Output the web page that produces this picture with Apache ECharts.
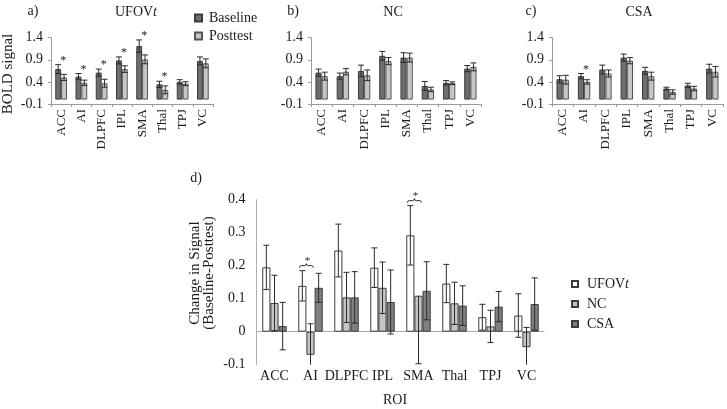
<!DOCTYPE html>
<html><head><meta charset="utf-8">
<script src="https://cdn.jsdelivr.net/npm/echarts@6/dist/echarts.min.js"></script>
<style>html,body{margin:0;padding:0;background:#fff}#c{width:727px;height:409px}</style>
</head><body><div id="c"></div>
<script>
const cats = ['ACC','AI','DLPFC','IPL','SMA','Thal','TPJ','VC'];
// Panel a) UFOVt
const ufovBase = [0.69,0.52,0.61,0.885,1.21,0.345,0.40,0.875];
const ufovPost = [0.50,0.38,0.37,0.69,0.91,0.22,0.36,0.82];
const ufovBaseErr = [0.10,0.07,0.08,0.08,0.14,0.07,0.05,0.09];
const ufovPostErr = [0.07,0.06,0.09,0.075,0.10,0.09,0.045,0.10];
const ufovSig = [1,1,1,1,1,1,0,0];
// Panel b) NC
const ncBase = [0.61,0.53,0.65,0.99,0.95,0.31,0.38,0.70];
const ncPost = [0.53,0.63,0.55,0.87,0.95,0.23,0.37,0.74];
const ncBaseErr = [0.08,0.07,0.13,0.10,0.11,0.10,0.05,0.07];
const ncPostErr = [0.09,0.07,0.12,0.08,0.10,0.05,0.03,0.09];
const ncSig = [0,0,0,0,0,0,0,0];
// Panel c) CSA
const csaBase = [0.46,0.53,0.68,0.95,0.65,0.25,0.32,0.70];
const csaPost = [0.45,0.40,0.59,0.88,0.53,0.17,0.25,0.63];
const csaBaseErr = [0.08,0.06,0.10,0.08,0.08,0.03,0.05,0.10];
const csaPostErr = [0.10,0.05,0.08,0.07,0.09,0.05,0.05,0.12];
const csaSig = [0,1,0,0,0,0,0,0];
// Panel d) change in signal
const chgUfov = [0.195,0.139,0.246,0.194,0.292,0.146,0.044,0.049];
const chgUfovErr = [0.067,0.046,0.080,0.060,0.090,0.058,0.039,0.066];
const chgNc = [0.087,-0.070,0.104,0.133,0.109,0.086,0.016,-0.047];
const chgNcErrDown = [0.084,0.094,0.076,0.078,0.206,0.064,0.049,0.060];
const chgNcErrUp = [0.084,0.094,0.076,0.078,0,0.064,0.049,0.060];
const chgCsa = [0.017,0.133,0.104,0.090,0.124,0.079,0.076,0.084];
const chgCsaErr = [0.072,0.044,0.078,0.097,0.088,0.060,0.046,0.079];
const chgSig = [0,1,0,0,1,0,0,0];

const FONT = 'Liberation Serif';
const TXT = '#1a1a1a';
const AX = '#9a9a9a';
const C_BASE = '#6e6e6e', C_POST = '#c6c6c6';
const C_U = '#ffffff', C_N = '#c4c4c4', C_C = '#808080';
const EDGE = '#3c3c3c';

const GAP_ABC = 0.42, GAP_D = 0.32;

function errSeries(g, vals, down, up, k, n, gap, yMin, yMax, whisk) {
  return {
    type: 'custom', xAxisIndex: g, yAxisIndex: g, z: 5, silent: true, clip: false,
    data: vals.map((v, i) => [i, v, down[i], up[i]]),
    renderItem: function (params, api) {
      const i = api.value(0), v = api.value(1), ed = api.value(2), eu = api.value(3);
      const c = api.coord([i, v]);
      const catW = api.size([1, 0])[0];
      const bw = catW * (1 - gap) / n;
      const x = c[0] + (k - (n - 1) / 2) * bw;
      const lo = v - ed, hi = v + eu;
      const lo2 = Math.max(lo, yMin), hi2 = Math.min(hi, yMax);
      const pLo = api.coord([i, lo2])[1], pHi = api.coord([i, hi2])[1];
      const st = { stroke: '#2a2a2a', lineWidth: 1 };
      const ch = [{ type: 'line', shape: { x1: x, y1: pLo, x2: x, y2: pHi }, style: st }];
      if (hi <= yMax + 1e-9 && eu > 0) ch.push({ type: 'line', shape: { x1: x - whisk, y1: pHi, x2: x + whisk, y2: pHi }, style: st });
      if (lo >= yMin - 1e-9) ch.push({ type: 'line', shape: { x1: x - whisk, y1: pLo, x2: x + whisk, y2: pLo }, style: st });
      return { type: 'group', children: ch };
    }
  };
}

function starSeries(g, sig, b, be, p, pe) {
  const data = [];
  sig.forEach((s, i) => { if (s) data.push([i, Math.max(b[i] + be[i], p[i] + pe[i])]); });
  return {
    type: 'custom', xAxisIndex: g, yAxisIndex: g, z: 6, silent: true, clip: false,
    data: data,
    renderItem: function (params, api) {
      const c = api.coord([api.value(0), api.value(1)]);
      return { type: 'text', x: c[0] + 2, y: c[1] - 4,
        style: { text: '*', textAlign: 'center', textVerticalAlign: 'middle', font: '12px ' + FONT, fill: TXT } };
    }
  };
}

function barPair(g, base, post) {
  return [
    { name: 'Baseline', type: 'bar', xAxisIndex: g, yAxisIndex: g, data: base, barGap: '0%', barCategoryGap: (GAP_ABC * 100) + '%',
      itemStyle: { color: C_BASE, borderColor: EDGE, borderWidth: 1 }, silent: true },
    { name: 'Posttest', type: 'bar', xAxisIndex: g, yAxisIndex: g, data: post, barGap: '0%', barCategoryGap: (GAP_ABC * 100) + '%',
      itemStyle: { color: C_POST, borderColor: '#555', borderWidth: 1 }, silent: true }
  ];
}

const grids = [
  { left: 51, top: 37.7, width: 162, height: 66.3 },
  { left: 311, top: 37.7, width: 170, height: 66.3 },
  { left: 552, top: 37.7, width: 171, height: 66.3 },
  { left: 256.5, top: 199.7, width: 288, height: 165 }
];

function xAx(g) {
  const small = g < 3;
  return {
    type: 'category', gridIndex: g, data: cats, position: 'bottom',
    axisLine: { show: small, onZero: false, lineStyle: { color: AX } },
    axisTick: { show: small, length: 3, lineStyle: { color: AX } },
    axisLabel: small
      ? { rotate: 90, margin: 5, fontFamily: FONT, fontSize: 13, color: TXT, interval: 0 }
      : { margin: 5, fontFamily: FONT, fontSize: 14, color: TXT, interval: 0 }
  };
}
function yAx(g) {
  if (g < 3) return {
    type: 'value', gridIndex: g, min: -0.1, max: 1.4, interval: 0.5,
    axisLine: { show: true, lineStyle: { color: AX } },
    axisTick: { show: true, length: 3, lineStyle: { color: AX } },
    splitLine: { show: false },
    axisLabel: { margin: 8, fontFamily: FONT, fontSize: 14, color: TXT, formatter: v => v.toFixed(1) }
  };
  return {
    type: 'value', gridIndex: g, min: -0.1, max: 0.4, interval: 0.1,
    axisLine: { show: true, lineStyle: { color: '#b0b0b0' } },
    axisTick: { show: false }, splitLine: { show: false },
    axisLabel: { margin: 11, fontFamily: FONT, fontSize: 14, color: TXT,
      formatter: v => Math.abs(v) < 1e-9 ? '0' : v.toFixed(1) }
  };
}

const series = [];
series.push(...barPair(0, ufovBase, ufovPost));
series.push(errSeries(0, ufovBase, ufovBaseErr, ufovBaseErr, 0, 2, GAP_ABC, -0.1, 10, 3));
series.push(errSeries(0, ufovPost, ufovPostErr, ufovPostErr, 1, 2, GAP_ABC, -0.1, 10, 3));
series.push(starSeries(0, ufovSig, ufovBase, ufovBaseErr, ufovPost, ufovPostErr));
series.push(...barPair(1, ncBase, ncPost));
series.push(errSeries(1, ncBase, ncBaseErr, ncBaseErr, 0, 2, GAP_ABC, -0.1, 10, 3));
series.push(errSeries(1, ncPost, ncPostErr, ncPostErr, 1, 2, GAP_ABC, -0.1, 10, 3));
series.push(starSeries(1, ncSig, ncBase, ncBaseErr, ncPost, ncPostErr));
series.push(...barPair(2, csaBase, csaPost));
series.push(errSeries(2, csaBase, csaBaseErr, csaBaseErr, 0, 2, GAP_ABC, -0.1, 10, 3));
series.push(errSeries(2, csaPost, csaPostErr, csaPostErr, 1, 2, GAP_ABC, -0.1, 10, 3));
series.push(starSeries(2, csaSig, csaBase, csaBaseErr, csaPost, csaPostErr));

const dBar = (name, data, color) => ({
  name: name, type: 'bar', xAxisIndex: 3, yAxisIndex: 3, data: data, barGap: '0%', barCategoryGap: (GAP_D * 100) + '%',
  itemStyle: { color: color, borderColor: EDGE, borderWidth: 1 }, silent: true
});
const uBar = dBar('UFOVt', chgUfov, C_U);
uBar.markLine = { silent: true, symbol: 'none', label: { show: false },
  lineStyle: { color: '#a8a8a8', type: 'solid', width: 1 }, data: [{ yAxis: 0 }], z: 1 };
series.push(uBar, dBar('NC', chgNc, C_N), dBar('CSA', chgCsa, C_C));
series.push(errSeries(3, chgUfov, chgUfovErr, chgUfovErr, 0, 3, GAP_D, -0.1, 0.4, 3));
series.push(errSeries(3, chgNc, chgNcErrDown, chgNcErrUp, 1, 3, GAP_D, -0.1, 0.4, 3));
series.push(errSeries(3, chgCsa, chgCsaErr, chgCsaErr, 2, 3, GAP_D, -0.1, 0.4, 3));

// braces with asterisks over UFOVt / NC pairs in d)
const braceData = [];
chgSig.forEach((s, i) => { if (s) braceData.push([i, chgUfov[i] + chgUfovErr[i]]); });
series.push({
  type: 'custom', xAxisIndex: 3, yAxisIndex: 3, z: 6, silent: true, clip: false, data: braceData,
  renderItem: function (params, api) {
    const i = api.value(0);
    const c = api.coord([i, api.value(1)]);
    const catW = api.size([1, 0])[0];
    const bw = catW * (1 - GAP_D) / 3;
    const cx = c[0] - bw / 2;
    const yb = c[1] - 3;
    const x1 = cx - 7, x2 = cx + 7;
    const d = `M${x1} ${yb} Q${x1} ${yb-2} ${x1+2} ${yb-2} L${cx-2} ${yb-2} Q${cx} ${yb-2} ${cx} ${yb-4} Q${cx} ${yb-2} ${cx+2} ${yb-2} L${x2-2} ${yb-2} Q${x2} ${yb-2} ${x2} ${yb}`;
    return { type: 'group', children: [
      { type: 'path', shape: { pathData: d }, style: { stroke: '#2a2a2a', fill: null, lineWidth: 1 } },
      { type: 'text', x: cx + 1, y: yb - 7, style: { text: '*', textAlign: 'center', textVerticalAlign: 'middle', font: '11px ' + FONT, fill: TXT } }
    ] };
  }
});

const T = (text, x, y, extra) => Object.assign({ type: 'text', x: x, y: y,
  style: Object.assign({ text: text, textAlign: 'center', textVerticalAlign: 'middle', font: '14px ' + FONT, fill: TXT }, extra || {}) });
const richT = { a: { fontFamily: FONT, fontSize: 14, color: TXT }, b: { fontFamily: FONT, fontSize: 14, fontStyle: 'italic', color: TXT } };

const option = {
  animation: false,
  backgroundColor: '#fff',
  grid: grids,
  xAxis: [0, 1, 2, 3].map(xAx),
  yAxis: [0, 1, 2, 3].map(yAx),
  legend: [
    { data: ['Baseline', 'Posttest'], orient: 'vertical', left: 189, top: 6, itemWidth: 7, itemHeight: 7, itemGap: 4,
      icon: 'rect', selectedMode: false, textStyle: { fontFamily: FONT, fontSize: 14, color: TXT, padding: [0, 0, 0, 2] } },
    { data: ['UFOVt', 'NC', 'CSA'], orient: 'vertical', left: 566, top: 272, itemWidth: 6, itemHeight: 6, itemGap: 6,
      icon: 'rect', selectedMode: false,
      formatter: n => n === 'UFOVt' ? '{a|UFOV}{b|t}' : '{a|' + n + '}',
      textStyle: { fontFamily: FONT, fontSize: 14, color: TXT, padding: [0, 0, 0, 4], rich: richT } }
  ],
  graphic: [
    T('a)', 33, 11), T('', 136, 12, { text: '{a|UFOV}{b|t}', rich: richT }),
    T('b)', 293, 11), T('NC', 393, 12),
    T('c)', 531, 11), T('CSA', 639, 12),
    T('d)', 196, 178),
    T('BOLD signal', 8, 74, { font: '15px ' + FONT }),
    T('Change in Signal\n(Baseline-Posttest)', 202, 273, { lineHeight: 14, font: '15px ' + FONT }),
    T('ROI', 395, 400)
  ],
  series: series
};
option.graphic[7].rotation = Math.PI / 2;
option.graphic[8].rotation = Math.PI / 2;

const chart = echarts.init(document.getElementById('c'), null, { renderer: 'canvas' });
chart.setOption(option);
</script>
</body></html>
